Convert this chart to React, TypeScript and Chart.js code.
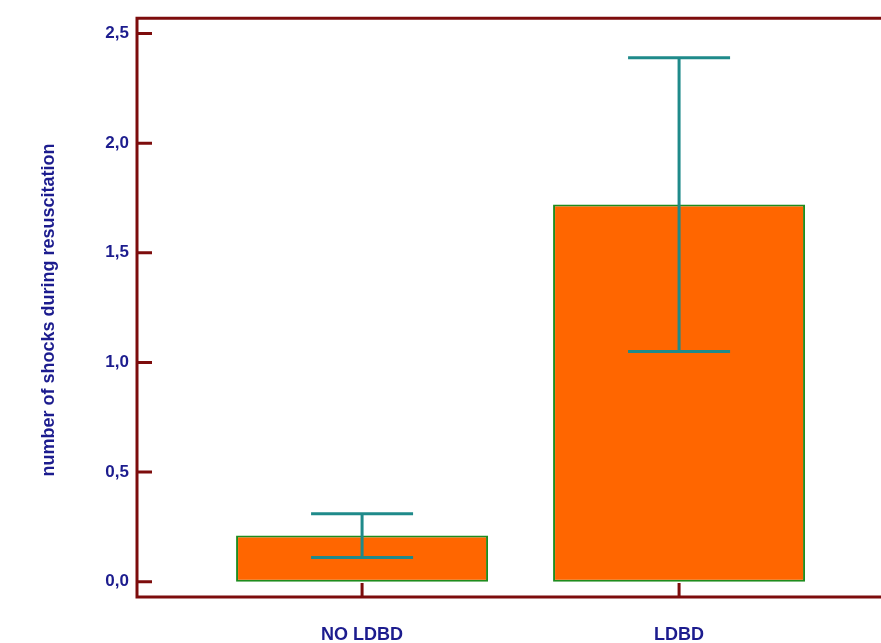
import React, { useEffect, useRef } from "react";
import { Chart, registerables } from "chart.js";

Chart.register(...registerables);

const categories = ["NO LDBD", "LDBD"];
const xPositions = [1, 2];
const means = [0.21, 1.72];
const errors = [0.1, 0.67];
const yTicks = [0, 0.5, 1, 1.5, 2, 2.5];
const yTitle = "number of shocks during resuscitation";

const AXIS_COLOR = "#7d0c0c";
const TEXT_COLOR = "#1c1c8e";
const ERR_COLOR = "#1f8a8a";
const FONT = "'Liberation Sans', Arial, sans-serif";

const framePlugin = {
  id: "frame",
  afterDatasetsDraw(chart: any) {
    const { ctx, chartArea, scales } = chart;
    const x = scales.x;
    const y = scales.y;
    ctx.save();
    // error bars
    ctx.strokeStyle = ERR_COLOR;
    ctx.lineWidth = 3;
    ctx.lineCap = "butt";
    for (let i = 0; i < means.length; i++) {
      const px = x.getPixelForValue(xPositions[i]);
      const yLo = y.getPixelForValue(means[i] - errors[i]);
      const yHi = y.getPixelForValue(means[i] + errors[i]);
      const half = 51;
      ctx.beginPath();
      ctx.moveTo(px, yLo);
      ctx.lineTo(px, yHi);
      ctx.moveTo(px - half, yLo);
      ctx.lineTo(px + half, yLo);
      ctx.moveTo(px - half, yHi);
      ctx.lineTo(px + half, yHi);
      ctx.stroke();
    }
    // frame
    ctx.strokeStyle = AXIS_COLOR;
    ctx.lineWidth = 3;
    ctx.beginPath();
    ctx.moveTo(chartArea.right, chartArea.top);
    ctx.lineTo(chartArea.left, chartArea.top);
    ctx.lineTo(chartArea.left, chartArea.bottom);
    ctx.lineTo(chartArea.right, chartArea.bottom);
    ctx.stroke();
    // y ticks (inward)
    ctx.beginPath();
    for (const v of yTicks) {
      const py = y.getPixelForValue(v);
      ctx.moveTo(chartArea.left, py);
      ctx.lineTo(chartArea.left + 15, py);
    }
    // x ticks (inward)
    for (const v of xPositions) {
      const px = x.getPixelForValue(v);
      ctx.moveTo(px, chartArea.bottom);
      ctx.lineTo(px, chartArea.bottom - 14);
    }
    ctx.stroke();
    // y title
    ctx.fillStyle = TEXT_COLOR;
    ctx.font = `bold 18px ${FONT}`;
    ctx.textAlign = "center";
    ctx.textBaseline = "alphabetic";
    ctx.translate(54, 310);
    ctx.rotate(-Math.PI / 2);
    ctx.fillText(yTitle, 0, 0);
    ctx.restore();
  },
};

export default function App() {
  const ref = useRef<HTMLCanvasElement>(null);
  useEffect(() => {
    if (!ref.current) return;
    const chart = new Chart(ref.current, {
      type: "bar",
      data: {
        datasets: [
          {
            data: xPositions.map((x, i) => ({ x, y: means[i] })),
            backgroundColor: "#ff6600",
            borderColor: "#1e8c1e",
            borderWidth: 2,
            borderSkipped: false,
            barPercentage: 0.795,
            categoryPercentage: 1,
          },
        ],
      },
      options: {
        responsive: false,
        animation: false,
        layout: { padding: { top: 17, left: 0, right: 0, bottom: 0 } },
        plugins: {
          legend: { display: false },
          tooltip: { enabled: false },
        },
        scales: {
          x: {
            type: "linear",
            offset: false,
            min: 0.29,
            max: 2.637,
            grid: { display: false, drawTicks: false, offset: false },
            border: { display: false },
            afterBuildTicks: (scale: any) => {
              scale.ticks = xPositions.map((v) => ({ value: v }));
            },
            afterFit: (scale: any) => {
              scale.height = 46;
            },
            ticks: {
              padding: 27,
              maxRotation: 0,
              autoSkip: false,
              color: TEXT_COLOR,
              font: { family: FONT, size: 18, weight: "bold" },
              callback: (v: any) => {
                const idx = xPositions.indexOf(Number(v));
                return idx >= 0 ? categories[idx] : "";
              },
            },
          },
          y: {
            type: "linear",
            min: -0.07,
            max: 2.57,
            grid: { display: false, drawTicks: false },
            border: { display: false },
            afterBuildTicks: (scale: any) => {
              scale.ticks = yTicks.map((v) => ({ value: v }));
            },
            afterFit: (scale: any) => {
              scale.width = 137;
            },
            ticks: {
              padding: 8,
              color: TEXT_COLOR,
              font: { family: FONT, size: 17, weight: "bold" },
              callback: (v: any) => Number(v).toFixed(1).replace(".", ","),
            },
          },
        },
      },
      plugins: [framePlugin],
    });
    return () => chart.destroy();
  }, []);
  return (
    <div style={{ position: "fixed", left: 0, top: 0, width: 881, height: 643, background: "#fff" }}>
      <canvas ref={ref} width={881} height={643} style={{ display: "block" }} />
    </div>
  );
}
